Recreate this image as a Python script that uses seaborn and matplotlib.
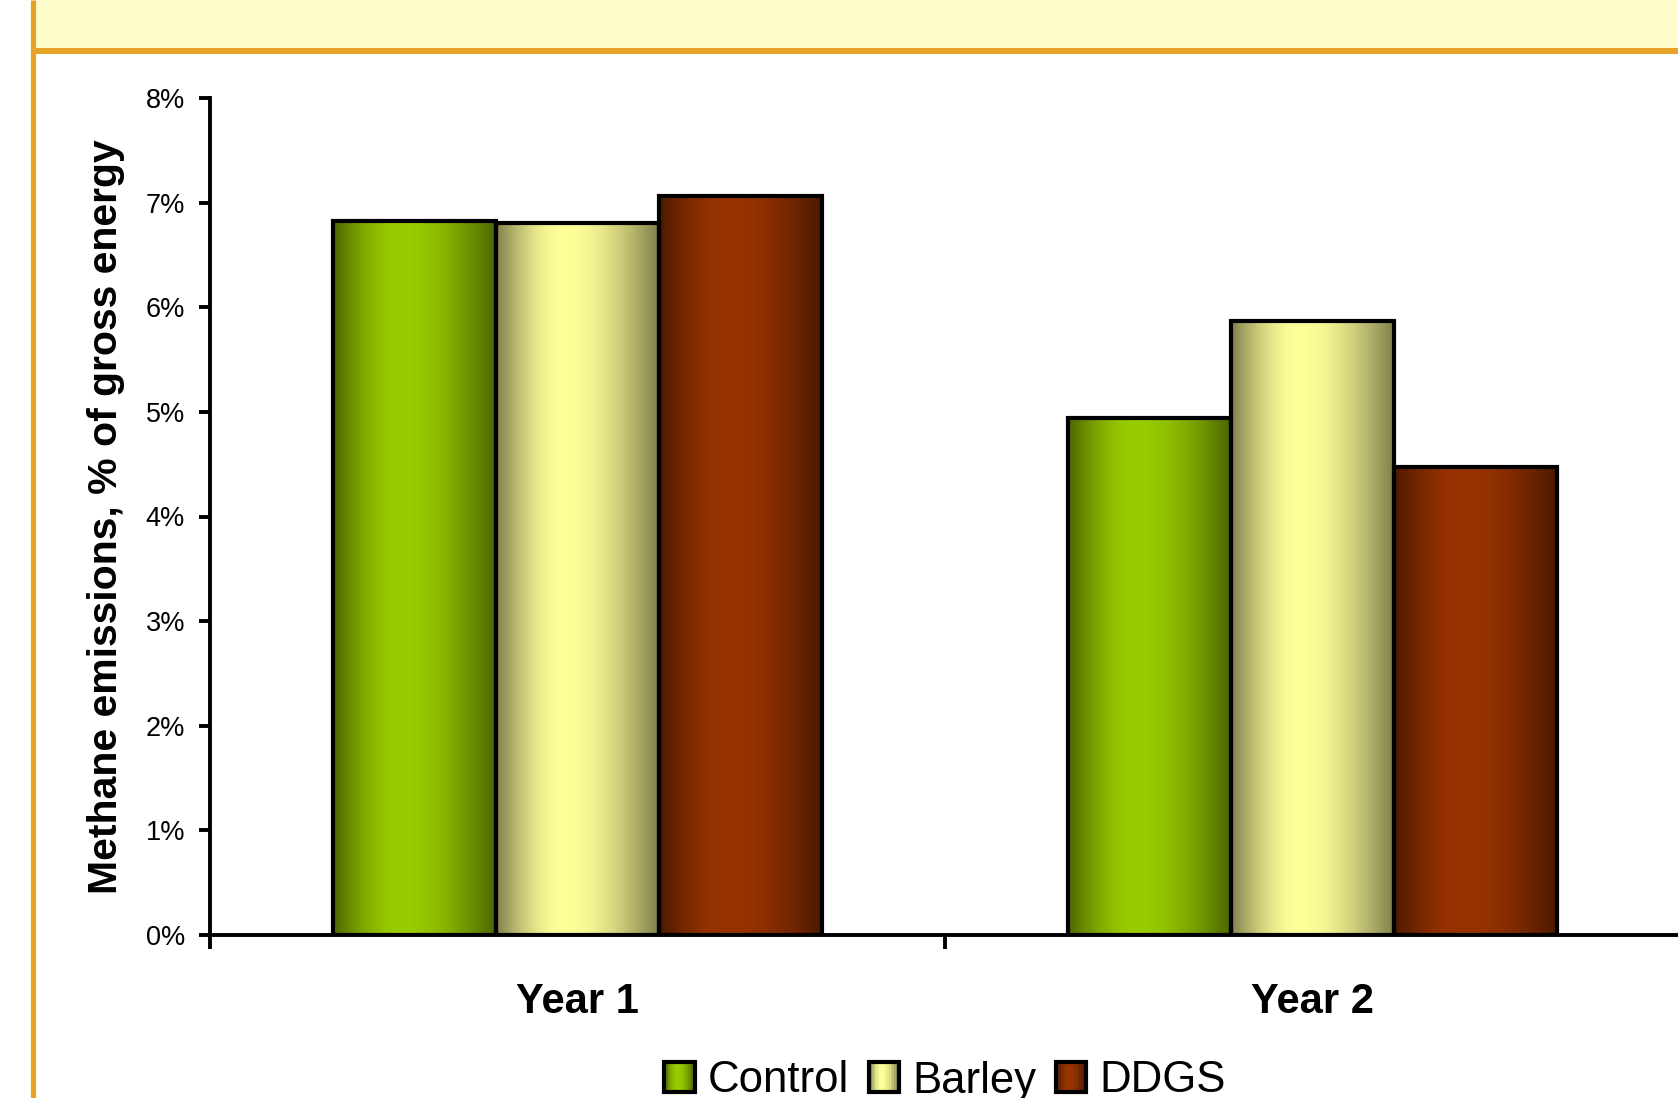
import numpy as np
import pandas as pd
import matplotlib
matplotlib.use("Agg")
import matplotlib.pyplot as plt
import seaborn as sns
from matplotlib.patches import Rectangle
from matplotlib.lines import Line2D
from matplotlib.legend_handler import HandlerBase
from matplotlib.colors import to_rgb

# ---- data ----
categories = ["Year 1", "Year 2"]
series_names = ["Control", "Barley", "DDGS"]
control = [6.82, 4.94]
barley = [6.81, 5.87]
ddgs = [7.06, 4.47]
ytick_values = [0, 1, 2, 3, 4, 5, 6, 7, 8]
ytick_labels = [f"{v}%" for v in ytick_values]
y_label = "Methane emissions, % of gross energy"

center_colors = {"Control": "#99CC00", "Barley": "#FFFF99", "DDGS": "#993300"}

df = pd.DataFrame({
    "Year": categories * len(series_names),
    "Diet": [s for s in series_names for _ in categories],
    "Value": control + barley + ddgs,
})

W, H = 1678, 1098
sns.set_style("white")
plt.rcParams["font.family"] = ["Liberation Sans", "DejaVu Sans"]
plt.rcParams["text.color"] = "black"


def gradient_colors(hexcol, n=256, peak=0.42, dark=0.5):
    c = np.array(to_rgb(hexcol))
    t = np.linspace(0, 1, n)
    f = np.where(t < peak, np.sin(np.pi / 2 * t / peak),
                 np.sin(np.pi / 2 * (1 - t) / (1 - peak)))
    k = dark + (1 - dark) * f
    return np.clip(c[None, :] * k[:, None], 0, 1)


fig = plt.figure(figsize=(W / 100, H / 100), dpi=100)
fig.patch.set_facecolor("white")

# decorative slide frame
fig.add_artist(Rectangle((35 / W, 1 - 49 / H), 1, 49 / H, transform=fig.transFigure,
                         facecolor="#FFFDCC", edgecolor="none", zorder=0))
fig.add_artist(Line2D([33 / W, 1], [1 - 51 / H, 1 - 51 / H], transform=fig.transFigure,
                      color="#E6A328", linewidth=4.3, zorder=1, solid_capstyle="butt"))
fig.add_artist(Line2D([33 / W, 33 / W], [0, 1], transform=fig.transFigure,
                      color="#E6A328", linewidth=3.8, zorder=1, solid_capstyle="butt"))

ax = fig.add_axes([210 / W, 1 - 935 / H, 1470 / W, (935 - 98) / H])
ax.set_facecolor("white")

sns.barplot(data=df, x="Year", y="Value", hue="Diet", order=categories,
            hue_order=series_names, palette=center_colors, width=0.665,
            edgecolor="black", linewidth=3.0, saturation=1, ax=ax,
            legend=False, errorbar=None)

# gradient fills clipped to the seaborn bars
bars = [p for p in ax.patches if isinstance(p, Rectangle)]
for p in bars:
    hexc = matplotlib.colors.to_hex(p.get_facecolor())
    bb = p.get_bbox()
    if bb.height <= 0:
        continue
    grad = gradient_colors(hexc)[None, :, :]
    im = ax.imshow(grad, extent=[bb.x0, bb.x1, bb.y0, bb.y1], aspect="auto",
                   interpolation="bilinear", zorder=p.get_zorder() - 0.01)
    im.set_clip_path(p)
    p.set_facecolor("none")

ax.set_xlim(-0.5, 1.5)
ax.set_ylim(0, 8)
ax.set_yticks(ytick_values)
ax.set_yticklabels(ytick_labels)
ax.set_xticks([0, 1])
ax.set_xticklabels(categories, fontsize=30, fontweight="bold")
ax.set_xticks([-0.5, 0.5, 1.5], minor=True)
ax.tick_params(axis="x", which="major", length=0, pad=34, colors="black")
ax.tick_params(axis="x", which="minor", length=10, width=2.8, direction="out",
               color="black", bottom=True)
ax.tick_params(axis="y", which="major", length=8, width=2.8, direction="out",
               labelsize=19.5, pad=10, colors="black", left=True)
ax.set_xlabel("")
ax.set_ylabel(y_label, fontsize=29.5, fontweight="bold", labelpad=15, color="black")

for side in ["top", "right"]:
    ax.spines[side].set_visible(False)
for side in ["left", "bottom"]:
    ax.spines[side].set_color("black")
    ax.spines[side].set_linewidth(2.8)


class GradHandler(HandlerBase):
    def __init__(self, color):
        super().__init__()
        self.color = color

    def create_artists(self, legend, orig_handle, xdescent, ydescent, width,
                       height, fontsize, trans):
        n = 18
        cols = gradient_colors(self.color, n=n)
        arts = []
        for i in range(n):
            arts.append(Rectangle((-xdescent + i * width / n, -ydescent),
                                  width / n * 1.08, height, facecolor=cols[i],
                                  edgecolor="none", transform=trans))
        arts.append(Rectangle((-xdescent, -ydescent), width, height,
                              facecolor="none", edgecolor="black",
                              linewidth=3.0, transform=trans))
        return arts


handles = [Rectangle((0, 0), 1, 1, facecolor=center_colors[s]) for s in series_names]
hmap = {h: GradHandler(center_colors[s]) for h, s in zip(handles, series_names)}
fig.legend(handles, series_names, handler_map=hmap, loc="center",
           bbox_to_anchor=(945 / W, 1 - 1081 / H), ncol=3, frameon=False,
           fontsize=31.5, handlelength=0.69, handleheight=0.69, labelcolor="black",
           handletextpad=0.3, columnspacing=0.45, borderaxespad=0, borderpad=0)

fig.savefig("out.png", dpi=100, facecolor="white")
